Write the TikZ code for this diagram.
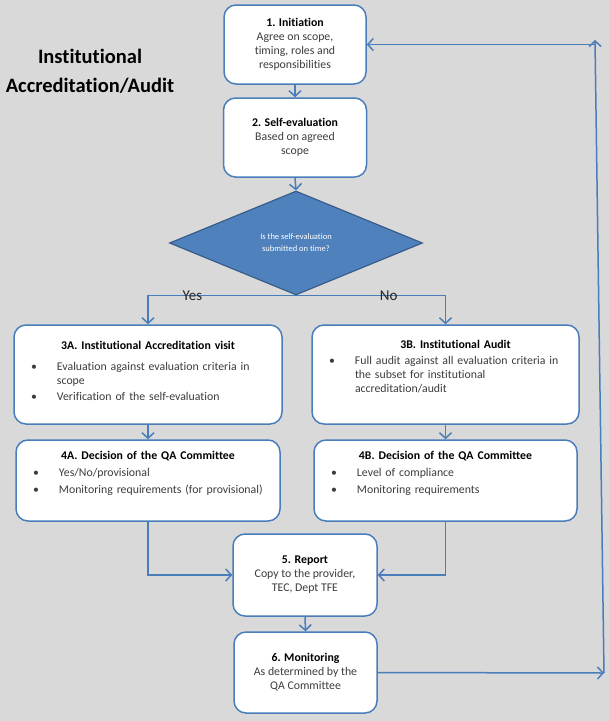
\documentclass[tikz,border=0pt]{standalone}
\usepackage{fontspec}
\setmainfont[Ligatures=NoCommon]{Carlito}
\usetikzlibrary{arrows.meta, shapes, positioning}
\usepackage{xcolor}
\definecolor{pagegrey}{RGB}{217,217,217}
\definecolor{lineblue}{RGB}{74,126,187}
\definecolor{fillblue}{RGB}{79,129,189}
\definecolor{edgeblue}{RGB}{56,93,138}
\definecolor{bodygrey}{RGB}{60,60,60}
\tikzset{stepbox/.style={rectangle, rounded corners=12pt, fill=white, draw=lineblue, line width=1.5pt, align=center, text=bodygrey, font=\fontsize{11.8}{14}\selectfont},
listbox/.style={stepbox, align=left, inner xsep=0pt},
decision/.style={diamond, fill=fillblue, draw=edgeblue, line width=1.2pt, text=white, align=center, inner sep=0pt, font=\fontsize{8.5}{12}\selectfont},
flowarrow/.style={draw=lineblue, line width=1.5pt, -{Straight Barb[length=5.5pt, width=12pt]}}}
\newcommand{\boxtitle}[1]{{\color{black}\bfseries #1}}
\newcommand{\listitem}[2]{\par\vspace{#1}\hangindent=43pt\hangafter=0\noindent\llap{\textbullet\hspace{20pt}}#2}

\begin{document}
\begin{tikzpicture}[x=1pt, y=-1pt]
        % Background
        \fill[pagegrey] (0,0) rectangle (609,721);
        \useasboundingbox (0,0) rectangle (609,721);
        % Title
        \node[align=center, font=\fontsize{20.5}{29}\selectfont\bfseries] (title) at (90,71.5) {Institutional\\Accreditation/Audit};
        % Steps
        \node[stepbox, minimum width=142pt, minimum height=79pt] (init) at (295,44.5) {\boxtitle{1. Initiation}\\Agree on scope,\\timing, roles and\\responsibilities};
        \node[stepbox, minimum width=143pt, minimum height=79pt] (self) at (295,137.5) {\boxtitle{2. Self-evaluation}\\Based on agreed\\scope};
        \node[decision, minimum width=253pt, minimum height=104pt] (dec) at (296,243) {Is the self-evaluation\\submitted on time?};
        \node[listbox, text width=268pt, minimum height=99pt] (visit) at (148,374.5) {%
            {\centering\boxtitle{3A. Institutional Accreditation visit}\par}
            \listitem{7pt}{Evaluation against evaluation criteria in\newline scope}
            \listitem{2pt}{Verification of the self-evaluation}
            \par\vspace*{7pt}};
        \node[listbox, text width=267pt, minimum height=99pt] (audit) at (445.5,374.5) {%
            {\centering\hspace*{20pt}\boxtitle{3B. Institutional Audit}\par}
            \listitem{2pt}{Full audit against all evaluation criteria in\newline the subset for institutional\newline accreditation/audit}
            \par\vspace*{15pt}};
        \node[listbox, text width=264pt, minimum height=81pt] (decA) at (148,480.5) {%
            {\centering\boxtitle{4A. Decision of the QA Committee}\par}
            \listitem{3pt}{Yes/No/provisional}
            \listitem{3pt}{Monitoring requirements (for provisional)}
            \par\vspace*{14pt}};
        \node[listbox, text width=263pt, minimum height=81pt] (decB) at (445.5,480.5) {%
            {\centering\boxtitle{4B. Decision of the QA Committee}\par}
            \listitem{3pt}{Level of compliance}
            \listitem{3pt}{Monitoring requirements}
            \par\vspace*{14pt}};
        \node[stepbox, minimum width=144pt, minimum height=82pt] (report) at (305,575) {\boxtitle{5. Report}\\Copy to the provider,\\TEC, Dept TFE};
        \node[stepbox, minimum width=143pt, minimum height=81pt] (monit) at (305.5,672.5) {\boxtitle{6. Monitoring}\\As determined by the\\QA Committee};
        % Loop back
        \coordinate (loopbottom) at (604,673);
        \coordinate (looptop) at (595,40);
        \coordinate (loopcorner) at (595,44.5);
        % Arrows
        \foreach \from/\to in {init/self, self/dec, visit/decA, audit/decB, report/monit} {
            \draw[flowarrow] (\from.south) -- (\to.north);
        }
        \draw[flowarrow] (dec.south) -| (visit.north) node[pos=0.35, font=\fontsize{15}{16}\selectfont, text=black!85] {Yes};
        \draw[flowarrow] (dec.south) -| (audit.north) node[pos=0.31, font=\fontsize{15}{16}\selectfont, text=black!85] {No};
        \draw[flowarrow] (decA.south) |- (report.west);
        \draw[flowarrow] (decB.south) |- (report.east);
        \draw[flowarrow] (monit.east) -- (loopbottom);
        \draw[flowarrow] (loopbottom) -- (looptop);
        \draw[flowarrow] (loopcorner) -- (init.east);
    \end{tikzpicture}
\end{document}
